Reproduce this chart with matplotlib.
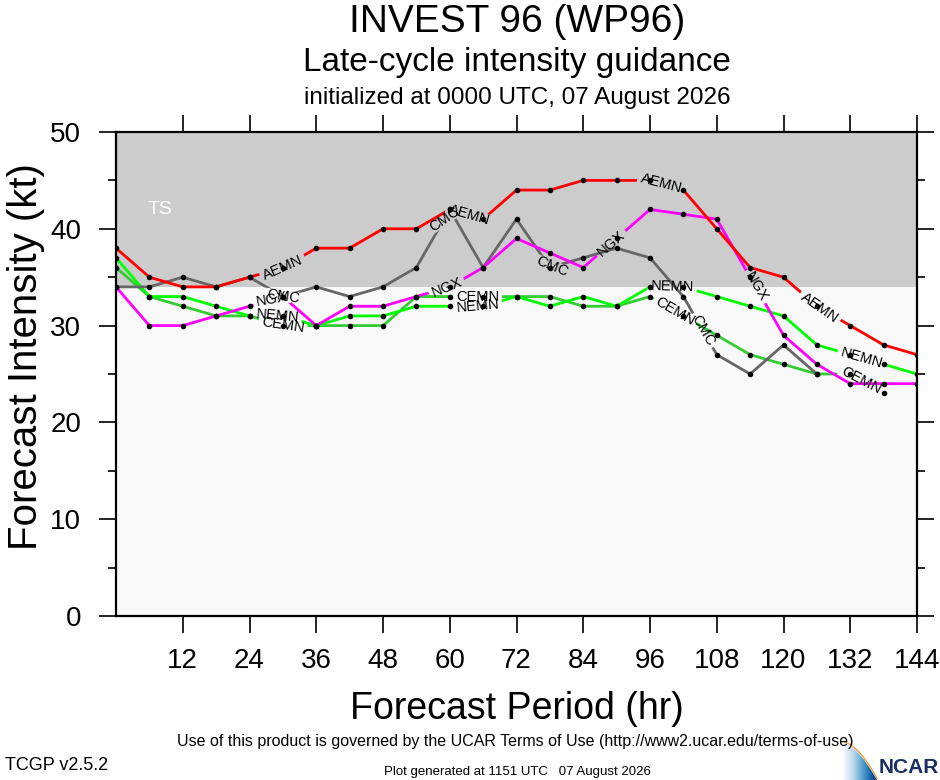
import numpy as np
import matplotlib
matplotlib.use('Agg')
import matplotlib.pyplot as plt
from matplotlib.path import Path
from matplotlib.transforms import IdentityTransform
from matplotlib.patches import PathPatch

plt.rcParams['font.family'] = ['Liberation Sans', 'DejaVu Sans']

# forecast hours, every 6 h
hours = list(range(0, 145, 6))

# intensity guidance (kt)
aemn = [38, 35, 34, 34, 35, 36, 38, 38, 40, 40, 42, 41, 44, 44, 45, 45, 45, 44, 40, 36, 35, 32, 30, 28, 27]
cmc = [34, 34, 35, 34, 35, 33, 34, 33, 34, 36, 42, 36, 41, 36, 37, 38, 37, 33, 27, 25, 28, 25]
ngx = [34, 30, 30, 31, 32, 33, 30, 32, 32, 33, 34, 36, 39, 37.5, 36, 39, 42, 41.5, 41, 35, 29, 26, 24, 24, 24]
nemn = [37, 33, 33, 32, 31, 31, 30, 31, 31, 32, 32, 32, 33, 32, 33, 32, 34, 34, 33, 32, 31, 28, 27, 26, 25]
cemn = [36, 33, 32, 31, 31, 30, 30, 30, 30, 33, 33, 33, 33, 33, 32, 32, 33, 31, 29, 27, 26, 25, 25, 23]

# where the model names sit along each line (hours)
aemn_lab = [30, 63.5, 98, 126.5]
cmc_lab = [30, 59, 78.5, 105.5]
ngx_lab = [28, 59.5, 89, 115]
nemn_lab = [29, 65, 100, 134]
cemn_lab = [30, 65, 100.5, 134]

xticks = list(range(12, 145, 12))
yticks = list(range(0, 51, 10))
ts_kt = 34

fig = plt.figure(figsize=(9.4, 7.8), dpi=100)
ax = fig.add_axes([116/940, 164/780, 801/940, 484/780])
ax.set_xlim(0, 144)
ax.set_ylim(0, 50)
ax.axhspan(ts_kt, 50, color='#cccccc', lw=0, zorder=0)
ax.axhspan(0, ts_kt, color='#f9f9f9', lw=0, zorder=0)
ax.text(8, 42, 'TS', color='white', fontsize=14, ha='center', va='center')

ax.set_xticks(xticks)
ax.set_yticks(yticks)
ax.set_yticks(range(5, 50, 10), minor=True)
ax.tick_params(which='major', direction='out', length=12, width=1.2,
               labelsize=20, top=True, right=True)
ax.tick_params(which='minor', direction='out', length=6, width=1.2,
               top=True, right=True)
ax.tick_params(axis='x', pad=11)
ax.tick_params(axis='y', pad=13)
for sp in ax.spines.values():
    sp.set_linewidth(1.6)

ax.set_xlabel('Forecast Period (hr)', fontsize=27, labelpad=12)
ax.set_ylabel('Forecast Intensity (kt)', fontsize=29)
ax.yaxis.set_label_coords(-71/801, 0.535)

series = [
    ('CEMN', cemn, '#33cc33', cemn_lab),
    ('NEMN', nemn, '#00ff00', nemn_lab),
    ('CMC', cmc, '#666666', cmc_lab),
    ('NGX', ngx, '#ff00ff', ngx_lab),
    ('AEMN', aemn, '#ff0000', aemn_lab),
]

renderer = fig.canvas.get_renderer()
x0, y0, x1, y1 = ax.bbox.extents

for name, vals, col, labs in series:
    hrs = hours[:len(vals)]
    line, = ax.plot(hrs, vals, color=col, lw=2, zorder=3)
    ax.plot(hrs, vals, 'o', color='k', ms=3, zorder=6)

    # cut a gap in the line under each name
    verts = [(x0, y0), (x1, y0), (x1, y1), (x0, y1), (x0, y0)]
    codes = [Path.MOVETO, Path.LINETO, Path.LINETO, Path.LINETO, Path.CLOSEPOLY]
    for xl in labs:
        yl = np.interp(xl, hrs, vals)
        ya = np.interp(xl - 2.5, hrs, vals)
        yb = np.interp(xl + 2.5, hrs, vals)
        ang = np.degrees(np.arctan2(yb - ya, 5.0))
        ang = ax.transData.transform_angles(np.array([ang]), np.array([[xl, yl]]))[0]
        t = ax.text(xl, yl, name, fontsize=10.5, ha='center', va='center',
                    rotation_mode='anchor', zorder=5)
        bb = t.get_window_extent(renderer)
        w, h = bb.width + 6, bb.height * 0.9
        t.set_rotation(ang)
        cx, cy = ax.transData.transform((xl, yl))
        th = np.radians(ang)
        c, s = np.cos(th), np.sin(th)
        pts = []
        for dx, dy in [(-w/2, -h/2), (-w/2, h/2), (w/2, h/2), (w/2, -h/2)]:
            pts.append((cx + dx*c - dy*s, cy + dx*s + dy*c))
        verts += pts + [pts[0]]
        codes += [Path.MOVETO, Path.LINETO, Path.LINETO, Path.LINETO, Path.CLOSEPOLY]
    line.set_clip_path(Path(verts, codes), IdentityTransform())

# titles
fig.text(0.55, 0.972, 'INVEST 96 (WP96)', fontsize=28, ha='center', va='center')
fig.text(0.55, 0.920, 'Late-cycle intensity guidance', fontsize=24, ha='center', va='center')
fig.text(0.55, 0.874, 'initialized at 0000 UTC, 07 August 2026', fontsize=17.5,
         ha='center', va='center')

# footer
fig.text(0.548, 0.049, 'Use of this product is governed by the UCAR Terms of Use '
         '(http://www2.ucar.edu/terms-of-use)', fontsize=11.5, ha='center', va='center')
fig.text(0.005, 0.019, 'TCGP v2.5.2', fontsize=13, ha='left', va='center')
fig.text(0.55, 0.010, 'Plot generated at 1151 UTC   07 August 2026', fontsize=9.5,
         ha='center', va='center')

# NCAR logo
lg = fig.add_axes([843/940, 0.0, 97/940, 42/780])
lg.set_xlim(0, 1)
lg.set_ylim(0, 1)
lg.axis('off')
tt = np.linspace(0, 1, 30)
top = [(0.02 + 0.33*u, 0.85 - 0.85*u**1.6) for u in tt]
swoosh = Path([(0.0, 0.0)] + top + [(0.0, 0.0)])
grad = np.linspace(0.25, 1.0, 64).reshape(1, -1)
im = lg.imshow(grad, cmap='Blues', extent=[0, 0.36, 0, 0.9], aspect='auto')
patch = PathPatch(swoosh, transform=lg.transData, facecolor='none', edgecolor='none')
lg.add_patch(patch)
im.set_clip_path(patch)
lg.plot([p[0] for p in top], [p[1] + 0.04 for p in top], color='#f0a040', lw=1)
lg.text(0.985, 0.06, 'NCAR', fontsize=15, fontweight='bold',
        color='#1b2f63', ha='right', va='bottom')

fig.savefig('out.png', dpi=100)
